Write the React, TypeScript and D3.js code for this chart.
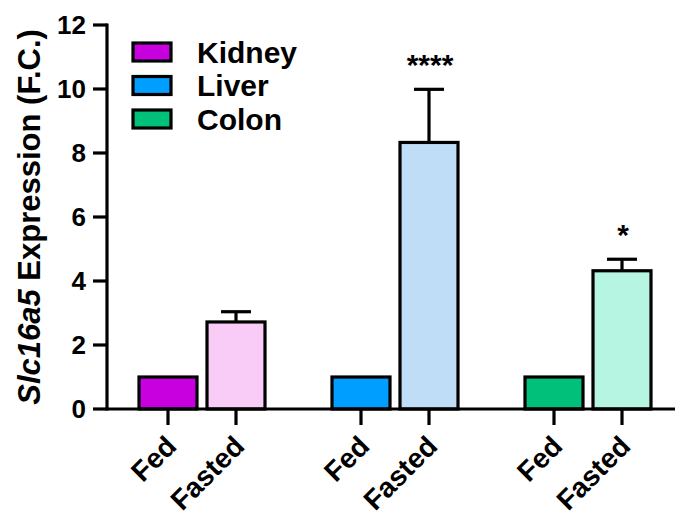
import React from "react";
import * as d3 from "d3";

const tissues = ["Kidney", "Liver", "Colon"];
const conditions = ["Fed", "Fasted"];
const means = {
  Kidney: [1, 2.72],
  Liver: [1, 8.33],
  Colon: [1, 4.32],
};
const errors = {
  Kidney: [0, 0.32],
  Liver: [0, 1.66],
  Colon: [0, 0.36],
};
const stars = { Kidney: "", Liver: "****", Colon: "*" };
const fedColors = ["#C800E0", "#009FFF", "#00C07A"];
const fastedColors = ["#F9CCF7", "#C0DDF7", "#B5F5E2"];
const yTicks = [0, 2, 4, 6, 8, 10, 12];

const W = 675;
const H = 511;
const FONT = "'Liberation Sans', Arial, sans-serif";

export default function App() {
  const y = d3.scaleLinear().domain([0, 12]).range([409, 25]);
  const xg = d3.scaleBand().domain(tissues).range([105.5, 684.5]).padding(0);
  const xi = d3
    .scaleBand()
    .domain(conditions)
    .range([0, 136])
    .paddingInner(10 / 68)
    .paddingOuter(5 / 68);
  const axisX = 107;
  const sw = 3.2;

  return (
    <svg
      width={W}
      height={H}
      style={{ position: "absolute", left: 0, top: 0 }}
      fontFamily={FONT}
      fontWeight="bold"
    >
      {/* bars */}
      {tissues.map((t, ti) => {
        const gc = (xg(t) as number) + xg.bandwidth() / 2;
        return conditions.map((c, ci) => {
          const x0 = gc - 68 + (xi(c) as number);
          const bw = xi.bandwidth();
          const v = means[t][ci];
          const e = errors[t][ci];
          const cx = x0 + bw / 2;
          return (
            <g key={t + c}>
              {e > 0 && (
                <g stroke="#000" strokeWidth={sw}>
                  <line x1={cx} x2={cx} y1={y(v)} y2={y(v + e)} />
                  <line x1={cx - 15} x2={cx + 15} y1={y(v + e)} y2={y(v + e)} />
                </g>
              )}
              <rect
                x={x0}
                y={y(v)}
                width={bw}
                height={y(0) - y(v)}
                fill={ci === 0 ? fedColors[ti] : fastedColors[ti]}
                stroke="#000"
                strokeWidth={sw}
              />
              {ci === 1 && stars[t] && (
                <text
                  x={cx + 1}
                  y={y(v + e) - 14}
                  textAnchor="middle"
                  fontSize={30}
                >
                  {stars[t]}
                </text>
              )}
              <line x1={cx} x2={cx} y1={y(0)} y2={425} stroke="#000" strokeWidth={sw} />
              <text
                transform={`translate(${cx + 10},${448}) rotate(-45)`}
                textAnchor="end"
                fontSize={28}
              >
                {c}
              </text>
            </g>
          );
        });
      })}

      {/* axes */}
      <line x1={axisX} x2={W} y1={y(0)} y2={y(0)} stroke="#000" strokeWidth={sw} />
      <line x1={axisX} x2={axisX} y1={y(12) - 1.6} y2={y(0) + 1.6} stroke="#000" strokeWidth={sw} />
      {yTicks.map((t) => (
        <g key={t}>
          <line x1={93} x2={axisX} y1={y(t)} y2={y(t)} stroke="#000" strokeWidth={sw} />
          <text x={86} y={y(t)} dy="0.36em" textAnchor="end" fontSize={26}>
            {t}
          </text>
        </g>
      ))}

      {/* y label */}
      <text
        transform={`translate(40,${(y(0) + y(12)) / 2}) rotate(-90)`}
        textAnchor="middle"
        fontSize={31}
      >
        <tspan fontStyle="italic">Slc16a5</tspan>
        <tspan> Expression (F.C.)</tspan>
      </text>

      {/* legend */}
      {tissues.map((t, i) => (
        <g key={t} transform={`translate(0,${i * 33.5})`}>
          <rect x={133} y={43} width={38} height={18} fill={fedColors[i]} stroke="#000" strokeWidth={sw} />
          <text x={197} y={52} dy="0.36em" fontSize={30}>
            {t}
          </text>
        </g>
      ))}
    </svg>
  );
}
